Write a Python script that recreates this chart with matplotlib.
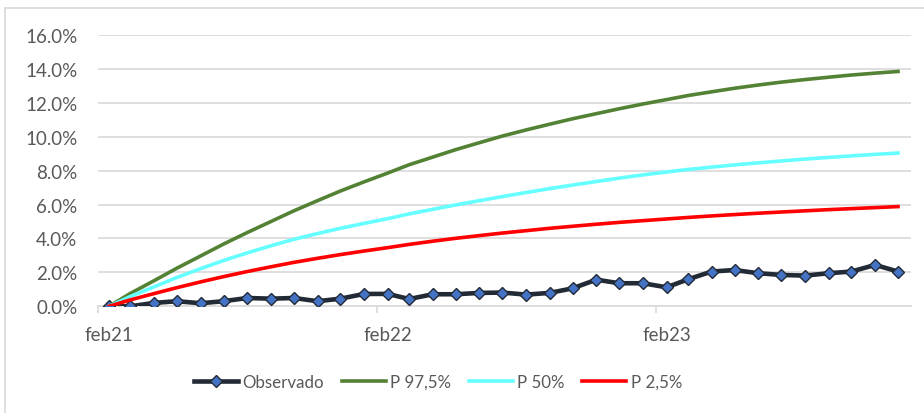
import matplotlib.pyplot as plt
from matplotlib.lines import Line2D
from matplotlib.ticker import FuncFormatter
import pandas as pd

plt.rcParams['font.family'] = ['Lato', 'DejaVu Sans']

# monthly series, feb21 .. dec23 (values in %)
observado = [0.0, 0.0, 0.20, 0.30, 0.18, 0.30, 0.49, 0.45, 0.49, 0.30, 0.45, 0.73,
             0.73, 0.43, 0.71, 0.71, 0.79, 0.81, 0.69, 0.79, 1.06, 1.57, 1.36, 1.36,
             1.12, 1.59, 2.05, 2.14, 1.95, 1.85, 1.81, 1.95, 2.05, 2.44, 2.05]
p975 = [0.0, 0.76, 1.51, 2.25, 2.97, 3.67, 4.35, 5.0, 5.63, 6.23, 6.8, 7.34,
        7.86, 8.35, 8.8, 9.24, 9.65, 10.04, 10.4, 10.74, 11.06, 11.36, 11.65, 11.93,
        12.19, 12.43, 12.65, 12.86, 13.05, 13.22, 13.37, 13.51, 13.64, 13.75, 13.85]
p50 = [0.0, 0.58, 1.15, 1.7, 2.22, 2.7, 3.15, 3.57, 3.95, 4.29, 4.6, 4.89,
       5.17, 5.45, 5.72, 5.98, 6.23, 6.47, 6.71, 6.94, 7.15, 7.36, 7.56, 7.75,
       7.92, 8.07, 8.21, 8.34, 8.46, 8.57, 8.68, 8.78, 8.87, 8.96, 9.04]
p025 = [0.0, 0.38, 0.75, 1.1, 1.44, 1.75, 2.05, 2.33, 2.59, 2.83, 3.05, 3.26,
        3.46, 3.65, 3.84, 4.01, 4.17, 4.32, 4.46, 4.6, 4.72, 4.84, 4.95, 5.05,
        5.15, 5.24, 5.33, 5.41, 5.49, 5.56, 5.63, 5.7, 5.76, 5.82, 5.88]
tick_labels = ['feb21', 'feb22', 'feb23']

dates = pd.date_range('2021-02-01', periods=len(observado), freq='MS') + pd.Timedelta(days=14)

grid_c = '#d9d9d9'
text_c = '#595959'

fig = plt.figure(figsize=(9.24, 4.14), dpi=100)
ax = fig.add_axes([98.3 / 924, 1 - 307.3 / 414, (911 - 98.3) / 924, (307.3 - 36) / 414])

ax.plot(dates, observado, color='#222a35', lw=3.3, marker='D', ms=6,
        mfc='#4472c4', mec='#222a35', mew=1, label='Observado', zorder=3)
ax.plot(dates, p975, color='#548235', lw=2.6, label='P 97,5%', zorder=4)
ax.plot(dates, p50, color='#66ffff', lw=2.6, label='P 50%', zorder=5)
ax.plot(dates, p025, color='#ff0000', lw=2.6, label='P 2,5%', zorder=6)

ax.set_xlim(pd.Timestamp('2021-02-01'), pd.Timestamp('2024-01-01'))
ax.set_ylim(0, 16)
ax.set_yticks(range(0, 17, 2))
ax.yaxis.set_major_formatter(FuncFormatter(lambda v, p: f'{v:.1f}%'))
ax.grid(axis='y', color=grid_c, lw=1.2)
ax.set_axisbelow(True)

major = [pd.Timestamp(f'20{l[3:]}-02-01') for l in tick_labels]
minor = [pd.Timestamp(f'20{l[3:]}-02-15') for l in tick_labels]
ax.set_xticks(major)
ax.set_xticklabels([''] * len(major))
ax.set_xticks(minor, minor=True)
ax.set_xticklabels(tick_labels, minor=True)
ax.tick_params(axis='x', which='major', length=5, color=grid_c, width=1.2)
ax.tick_params(axis='x', which='minor', length=0, pad=14, labelsize=13.5, labelcolor=text_c)
ax.tick_params(axis='y', length=0, pad=15, labelsize=13.5, labelcolor=text_c)

for s in ['top', 'right', 'left']:
    ax.spines[s].set_visible(False)
ax.spines['bottom'].set_color(grid_c)
ax.spines['bottom'].set_linewidth(1.2)

leg = fig.legend(loc='center', bbox_to_anchor=(438 / 924, 1 - 383 / 414), ncol=4,
                 frameon=False, fontsize=12.2, handlelength=2.6, handletextpad=0.25,
                 columnspacing=1.05)
for t in leg.get_texts():
    t.set_color(text_c)

# chart area border (only top and left edges are visible)
fig.add_artist(Line2D([5 / 924, 5 / 924], [0, 1 - 9 / 414], color=grid_c, lw=1.2))
fig.add_artist(Line2D([5 / 924, 1], [1 - 9 / 414, 1 - 9 / 414], color=grid_c, lw=1.2))

fig.savefig('out.png', dpi=100)
